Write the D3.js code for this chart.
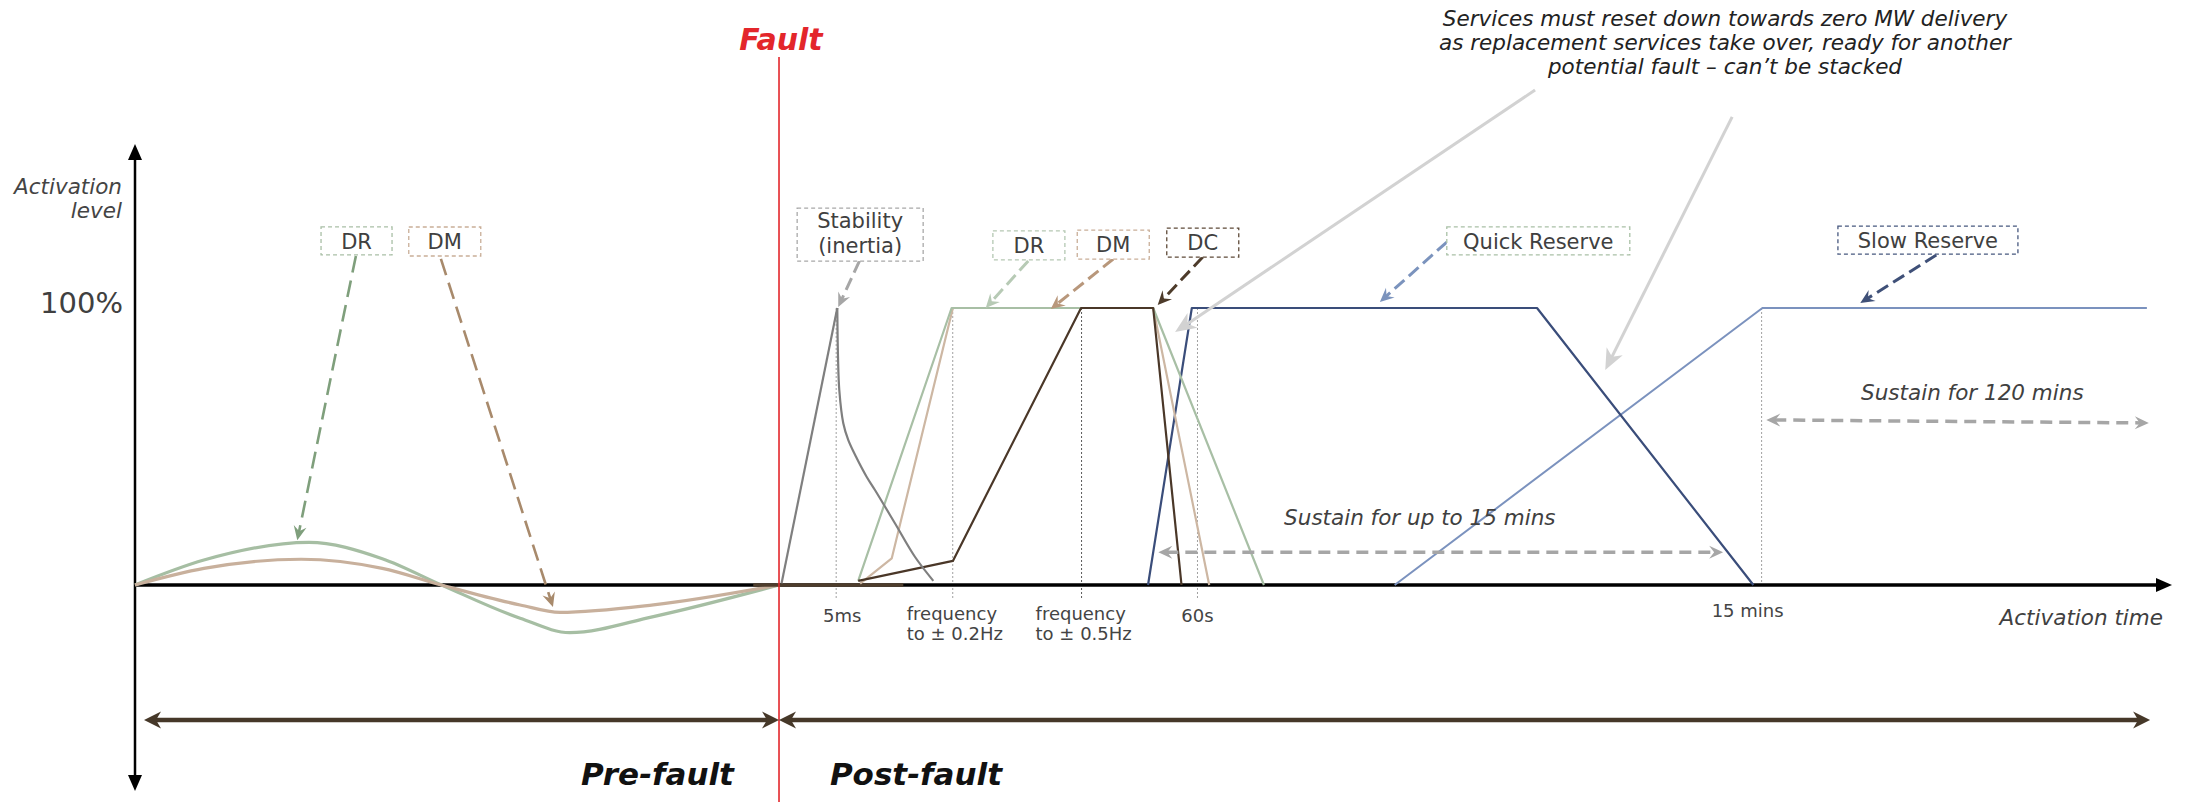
<!DOCTYPE html>
<html>
<head>
<meta charset="utf-8">
<script src="https://cdn.jsdelivr.net/npm/d3@7"></script>
<style>
html, body { margin: 0; padding: 0; background: #fff; }
svg { display: block; font-family: "DejaVu Sans", Verdana, sans-serif; }
</style>
</head>
<body>
<svg width="2185" height="802"></svg>
<script>
// schematic time t: fault at 0, pre-fault from -100 ; level in % of full activation
var preDR = [[-100,0],[-89.3,9],[-73,15.4],[-61.6,9.5],[-52.4,0],[-40.2,-12],[-32.5,-17.2],[-19.5,-11.4],[0,0]];
var preDM = [[-100,0],[-89.3,6],[-74.2,9.3],[-61.6,6],[-52.4,0],[-40.2,-7.2],[-34,-9.9],[-19.5,-7.2],[0,0]];

var stabilityRise = [[0.4,0.6],[9.05,100]];
var stabilityDecay = [[9.05,100],[9.16,82.4],[9.36,70.4],[9.98,58.4],[10.76,52.3],[11.96,46.3],[13.6,39.1],[14.9,34.3],[18.0,22.3],[21.1,10.2],[23.96,1.5]];
var postDR = [[12.3,1.5],[26.8,100],[58.1,100],[75.3,0]];
var postDM = [[12.6,0.5],[17.5,9.6],[27.0,100],[58.1,100],[66.8,0]];
var dcIdle = [[-4,0],[19.3,0]];
var postDC = [[12.3,1.5],[27.0,8.7],[46.9,100],[58.1,100],[62.5,0]];
var quickReserve = [[57.3,0],[64.1,100],[117.7,100],[151.3,0]];
var slowReserve = [[95.6,0],[152.7,100],[212.4,100]];

var tickTimes = [8.8, 26.9, 46.9, 64.9, 152.5];
var tickLabels = [["5ms"], ["frequency", "to \u00b1 0.2Hz"], ["frequency", "to \u00b1 0.5Hz"], ["60s"], ["15 mins"]];

var boxLabels = [["DR"], ["DM"], ["Stability", "(inertia)"], ["DR"], ["DM"], ["DC"], ["Quick Reserve"], ["Slow Reserve"]];

var svg = d3.select("svg"),
    defs = svg.append("defs");

var x = d3.scaleLinear().domain([-100, 216.3]).range([135, 2172]),
    y = d3.scaleLinear().domain([0, 100]).range([585, 308]);

var shapes = {
    stealth: "M0,0L-14,-6.5L-9,0L-14,6.5Z",
    big: "M0,0L-21,-9L-15,0L-21,9Z",
    tri: "M0,0L-16,-7L-16,7Z",
    bar: "M0,0L-17,-8.5L-12,0L-17,8.5Z"
};

function marker(id, color, shape, back) {
    defs.append("marker")
        .attr("id", id)
        .attr("viewBox", "-26 -13 30 26")
        .attr("markerWidth", 30).attr("markerHeight", 26)
        .attr("markerUnits", "userSpaceOnUse")
        .attr("refX", -back).attr("refY", 0)
        .attr("orient", "auto-start-reverse")
      .append("path")
        .attr("d", shapes[shape])
        .attr("fill", color);
    return "url(#" + id + ")";
}

// move b back towards a by d pixels
function pull(a, b, d) {
    var dx = b[0] - a[0], dy = b[1] - a[1], len = Math.hypot(dx, dy);
    return [b[0] - dx / len * d, b[1] - dy / len * d];
}

var mid = 0;
function arrow(from, to, o) {
    var p1 = [x(from[0]), y(from[1])], p2 = [x(to[0]), y(to[1])];
    var m = marker("m" + (mid++), o.color, o.shape, o.back);
    var q2 = pull(p1, p2, o.back), q1 = o.both ? pull(p2, p1, o.back) : p1;
    svg.append("line")
        .attr("x1", q1[0]).attr("y1", q1[1])
        .attr("x2", q2[0]).attr("y2", q2[1])
        .attr("stroke", o.color)
        .attr("stroke-width", o.width)
        .attr("stroke-dasharray", o.dash || null)
        .attr("marker-end", m)
        .attr("marker-start", o.both ? m : null);
}

// ---- axes
var axisG = svg.append("g").attr("transform", "translate(0," + y(100) + ")");
axisG.call(d3.axisBottom(x).tickValues(tickTimes).tickFormat("")
        .tickSize(y(-5.4) - y(100)).tickSizeOuter(0));
axisG.attr("font-family", null).attr("font-size", null);
axisG.select(".domain").remove();
axisG.selectAll(".tick line")
    .attr("stroke", function (d, i) { return i == 2 ? "#5a5a5a" : "#a0a0a0"; })
    .attr("stroke-width", 1)
    .attr("stroke-dasharray", "2,2");
axisG.selectAll(".tick line").filter(function (d, i) { return i == 4; }).attr("y2", y(0) - y(100));

var tickLayout = [
    { anchor: "middle", dx: 6, dy: 314 },
    { anchor: "start", dx: -46, dy: 312 },
    { anchor: "start", dx: -46, dy: 312 },
    { anchor: "middle", dx: 0, dy: 314 },
    { anchor: "middle", dx: -14, dy: 309 }
];
axisG.selectAll(".tick").each(function (d, i) {
    var t = d3.select(this).append("text")
        .attr("fill", "#444")
        .attr("font-family", "DejaVu Sans, Verdana, sans-serif")
        .attr("font-size", 18)
        .attr("text-anchor", tickLayout[i].anchor)
        .attr("y", tickLayout[i].dy);
    tickLabels[i].forEach(function (s, k) {
        t.append("tspan").attr("x", tickLayout[i].dx).attr("dy", k ? 20 : 0).text(s);
    });
});

var yAxisG = svg.append("g").attr("transform", "translate(" + x(-100) + ",0)");
yAxisG.call(d3.axisLeft(y).tickValues([100]).tickFormat(function (d) { return d + "%"; })
        .tickSize(0).tickPadding(12));
yAxisG.select(".domain").remove();
yAxisG.selectAll("text").attr("font-size", 29).attr("fill", "#404040")
    .attr("font-family", "DejaVu Sans, sans-serif").attr("dy", "0.16em");

// axis lines with arrows
svg.append("line")
    .attr("x1", x(-100)).attr("y1", y(0)).attr("x2", x(216.3) - 12).attr("y2", y(0))
    .attr("stroke", "#000").attr("stroke-width", 3.5)
    .attr("marker-end", marker("xax", "#000", "tri", 12));
svg.append("line")
    .attr("x1", x(-100)).attr("y1", y(159.2) + 12).attr("x2", x(-100)).attr("y2", y(-74.4) - 12)
    .attr("stroke", "#000").attr("stroke-width", 2.5)
    .attr("marker-start", marker("yax", "#000", "tri", 12))
    .attr("marker-end", "url(#yax)");

// ---- series
var line = d3.line().x(function (d) { return x(d[0]); }).y(function (d) { return y(d[1]); });
var smooth = d3.line().x(function (d) { return x(d[0]); }).y(function (d) { return y(d[1]); }).curve(d3.curveMonotoneX);
var decay = d3.line().x(function (d) { return x(d[0]); }).y(function (d) { return y(d[1]); }).curve(d3.curveCatmullRom.alpha(0.5));

function path(data, gen, color, w) {
    svg.append("path").datum(data)
        .attr("d", gen)
        .attr("fill", "none")
        .attr("stroke", color)
        .attr("stroke-width", w)
        .attr("stroke-linejoin", "round");
}

path(preDR, smooth, "#a6bea3", 3.2);
path(preDM, smooth, "#c8b09c", 3.2);
path(dcIdle, line, "#4e3d2c", 3.5);
path(slowReserve, line, "#7b92be", 2);
path(quickReserve, line, "#3a4d7a", 2.2);
path(postDM, line, "#cdb7a3", 2.2);
path(postDR, line, "#a8bfa5", 2.2);
path(postDC, line, "#4a3728", 2.2);
path(stabilityRise, line, "#7f7f7f", 2.2);
path(stabilityDecay, decay, "#7f7f7f", 2.2);

// ---- fault line
svg.append("line")
    .attr("x1", x(0)).attr("x2", x(0)).attr("y1", 57).attr("y2", 802)
    .attr("stroke", "#e3262b").attr("stroke-width", 1.6);
svg.append("text")
    .attr("x", x(0) + 2).attr("y", 50)
    .attr("text-anchor", "middle")
    .attr("font-size", 30).attr("font-weight", "bold").attr("font-style", "italic")
    .attr("fill", "#e3262b")
    .text("Fault");

// ---- pre / post fault spans
arrow([0, -48.7], [-98.6, -48.7], { color: "#463829", shape: "bar", back: 12, width: 4.5, both: true });
arrow([0, -48.7], [212.9, -48.7], { color: "#463829", shape: "bar", back: 12, width: 4.5, both: true });

svg.append("text").attr("x", x(-7)).attr("y", 785).attr("text-anchor", "end")
    .attr("font-size", 31).attr("font-weight", "bold").attr("font-style", "italic").attr("fill", "#111")
    .text("Pre-fault");
svg.append("text").attr("x", x(7.9)).attr("y", 785)
    .attr("font-size", 31).attr("font-weight", "bold").attr("font-style", "italic").attr("fill", "#111")
    .text("Post-fault");

// ---- callout boxes with dashed arrows
var boxAt = [[-65.6,124.2],[-51.9,124],[12.6,126.5],[38.8,122.6],[51.9,122.9],[65.8,123.6],[117.9,124.2],[178.4,124.5]];
var boxSize = [[71,28],[72,29],[126,53],[72,29],[72,29],[72,29],[183,28],[180,28]];
var boxColor = ["#a9bfa6","#c9ae98","#a8a8a8","#b5c8b3","#c9ae98","#5e4a38","#a9c0a6","#47587f"];
var arrowFrom = [[-65.7,118.8],[-52.5,117.7],[12.5,117],[38.7,117],[51.9,117.7],[65.8,118.4],[103.7,123.8],[179.7,119.1]];
var arrowTo = [[-74.8,16.2],[-35.1,-7.9],[9.2,100.4],[32.1,100],[42.2,99.6],[58.8,101.1],[93.3,102.2],[167.9,101.8]];
var arrowColor = ["#7f9f7c","#a88a6c","#a6a6a6","#b7cab5","#b8977b","#4d3b2a","#7b93bd","#3f5078"];

boxLabels.forEach(function (lab, i) {
    arrow(arrowFrom[i], arrowTo[i], {
        color: arrowColor[i], shape: "stealth", back: 8,
        width: i < 2 ? 2.6 : 3, dash: i < 2 ? "17,8" : "13,6"
    });
    var cx = x(boxAt[i][0]), cy = y(boxAt[i][1]), w = boxSize[i][0], h = boxSize[i][1];
    svg.append("rect")
        .attr("x", cx - w / 2).attr("y", cy - h / 2)
        .attr("width", w).attr("height", h)
        .attr("fill", "#fff")
        .attr("stroke", boxColor[i]).attr("stroke-width", 1.3)
        .attr("stroke-dasharray", "4,3");
    var t = svg.append("text")
        .attr("text-anchor", "middle")
        .attr("font-size", 21).attr("fill", "#404040");
    if (lab.length == 1) {
        t.append("tspan").attr("x", cx).attr("y", cy).attr("dy", "0.36em").text(lab[0]);
    } else {
        t.append("tspan").attr("x", cx).attr("y", cy - 7).text(lab[0]);
        t.append("tspan").attr("x", cx).attr("y", cy + 18).text(lab[1]);
    }
});

// ---- reset note and its arrows
arrow([117.4,178.7], [61.5,91.3], { color: "#d2d2d2", shape: "big", back: 12, width: 3 });
arrow([148,169], [128.3,77.6], { color: "#d2d2d2", shape: "big", back: 12, width: 3 });

var note = ["Services must reset down towards zero MW delivery",
            "as replacement services take over, ready for another",
            "potential fault \u2013 can\u2019t be stacked"];
svg.append("text")
    .attr("text-anchor", "middle")
    .attr("font-size", 21.5).attr("font-style", "italic").attr("fill", "#222")
    .selectAll("tspan").data(note).enter().append("tspan")
    .attr("x", 1725).attr("y", function (d, i) { return 26 + i * 23.8; })
    .text(function (d) { return d; });

// ---- sustain spans
arrow([58.9,11.8], [146.6,11.8], { color: "#a6a6a6", shape: "stealth", back: 8, width: 3.5, dash: "12,7", both: true });
arrow([153.3,59.6], [212.7,58.5], { color: "#a6a6a6", shape: "stealth", back: 8, width: 3.5, dash: "12,7", both: true });

function note1(txt, xp, yp, anchor) {
    svg.append("text")
        .attr("x", xp).attr("y", yp)
        .attr("text-anchor", anchor)
        .attr("font-size", 21.5).attr("font-style", "italic").attr("fill", "#404040")
        .text(txt);
}
note1("Sustain for up to 15 mins", x(99.5), 525, "middle");
note1("Sustain for 120 mins", x(185.3), 400, "middle");
note1("Activation time", 2163, 625, "end");

svg.append("text")
    .attr("text-anchor", "end")
    .attr("font-size", 21.5).attr("font-style", "italic").attr("fill", "#444")
    .selectAll("tspan").data(["Activation", "level"]).enter().append("tspan")
    .attr("x", 122).attr("y", function (d, i) { return 194 + i * 24; })
    .text(function (d) { return d; });
</script>
</body>
</html>
